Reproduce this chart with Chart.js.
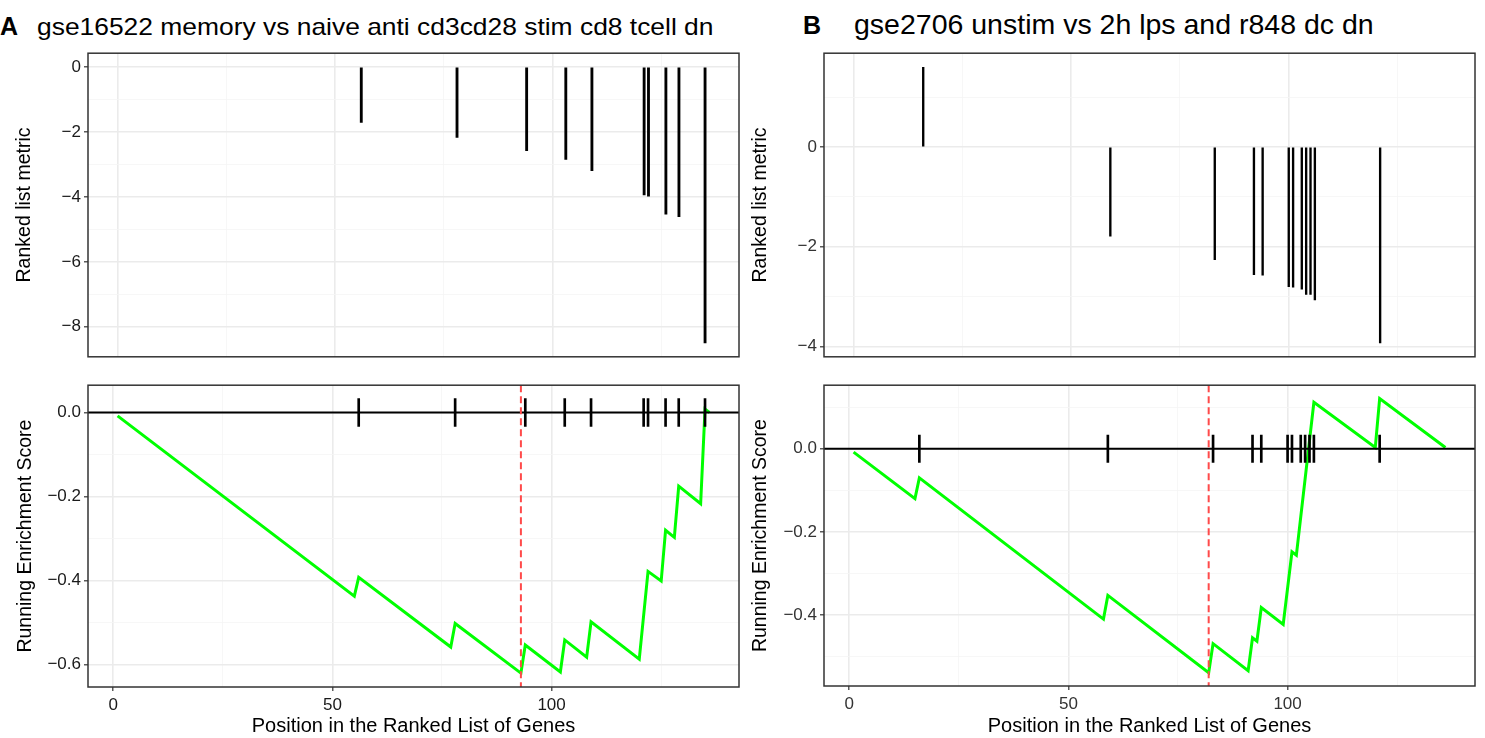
<!DOCTYPE html>
<html>
<head>
<meta charset="utf-8">
<script src="https://cdn.jsdelivr.net/npm/chart.js@4.4.1/dist/chart.umd.min.js"></script>
<style>
  body { margin: 0; background: #fff; width: 1485px; height: 738px; overflow: hidden; position: relative;
         font-family: "Liberation Sans", Arial, sans-serif; }
  canvas, .lbl { position: absolute; }
  .lbl { white-space: nowrap; line-height: 1; color: #000; }
</style>
</head>
<body>
<div class="lbl" style="left:0px;top:14px;font-size:25px;font-weight:bold">A</div>
<div class="lbl" style="left:37px;top:15px;font-size:24px;transform:scaleX(1.1);transform-origin:0 0">gse16522 memory vs naive anti cd3cd28 stim cd8 tcell dn</div>
<div class="lbl" style="left:803px;top:13px;font-size:25px;font-weight:bold">B</div>
<div class="lbl" style="left:854px;top:10px;font-size:28.5px">gse2706 unstim vs 2h lps and r848 dc dn</div>

<canvas id="aTop" width="745" height="330" style="left:0;top:40px"></canvas>
<canvas id="aBottom" width="745" height="366" style="left:0;top:372px"></canvas>
<canvas id="bTop" width="745" height="330" style="left:740px;top:40px"></canvas>
<canvas id="bBottom" width="745" height="366" style="left:740px;top:372px"></canvas>

<script>
// panel A: gse16522 memory vs naive
const genePosA = [56, 78, 94, 103, 109, 121, 122, 126, 129, 135]
const metricA = [-1.71, -2.17, -2.58, -2.85, -3.19, -3.94, -3.98, -4.53, -4.61, -8.5]
const esPosA = [1, 55, 56, 77, 78, 93, 94, 102, 103, 108, 109, 120, 122, 125, 126, 128, 129, 134, 135, 136]
const esA = [-0.008, -0.437, -0.392, -0.558, -0.502, -0.620, -0.553, -0.617, -0.541, -0.582, -0.498,
             -0.587, -0.378, -0.401, -0.280, -0.297, -0.175, -0.217, 0.008, 0.000]
const peakA = 93

// panel B: gse2706 unstim vs 2h lps and r848
const genePosB = [16, 59, 83, 92, 94, 100, 101, 103, 104, 105, 106, 121]
const metricB = [1.60, -1.79, -2.26, -2.56, -2.57, -2.80, -2.81, -2.85, -2.96, -2.96, -3.07, -3.93]
const esPosB = [1, 15, 16, 58, 59, 82, 83, 91, 92, 93, 94, 99, 101, 102, 106, 120, 121, 136]
const esB = [-0.008, -0.120, -0.070, -0.410, -0.353, -0.539, -0.469, -0.534, -0.455, -0.463, -0.382,
             -0.423, -0.248, -0.256, 0.112, 0.003, 0.121, 0.003]
const peakB = 82

// tick values
const xMajor = [0, 50, 100]
const xMinor = [25, 75, 125]
const yTopAMajor = [0, -2, -4, -6, -8]
const yTopAMinor = [-1, -3, -5, -7]
const yBotAMajor = [0, -0.2, -0.4, -0.6]
const yBotAMinor = [-0.1, -0.3, -0.5]
const yTopBMajor = [0, -2, -4]
const yTopBMinor = [1, -1, -3]
const yBotBMajor = [0, -0.2, -0.4]
const yBotBMinor = [0.1, -0.1, -0.3, -0.5]

const tickHalf = 0.033
const FONT = '"Liberation Sans", Arial, sans-serif'
Chart.defaults.font.family = FONT
Chart.defaults.animation = false

const fmtInt = v => v < 0 ? '\u2212' + Math.abs(v) : String(v)
const fmtDec = v => (v < 0 ? '\u2212' : '') + Math.abs(v).toFixed(1)

const frame = {
    id: 'frame',
    afterDraw(chart) {
        const { ctx, chartArea: a } = chart
        ctx.save()
        ctx.strokeStyle = '#333'
        ctx.lineWidth = 1.5
        ctx.strokeRect(a.left, a.top, a.right - a.left, a.bottom - a.top)
        ctx.restore()
    }
}

const refLines = {
    id: 'refLines',
    afterDatasetsDraw(chart, args, opts) {
        const { ctx, chartArea: a, scales: { x, y } } = chart
        const y0 = y.getPixelForValue(0)
        const xp = x.getPixelForValue(opts.peak)
        ctx.save()
        ctx.strokeStyle = '#000'
        ctx.lineWidth = 2
        ctx.beginPath(); ctx.moveTo(a.left, y0); ctx.lineTo(a.right, y0); ctx.stroke()
        ctx.strokeStyle = '#FF4A4A'
        ctx.lineWidth = 2
        ctx.setLineDash([7, 4])
        ctx.beginPath(); ctx.moveTo(xp, a.top); ctx.lineTo(xp, a.bottom); ctx.stroke()
        ctx.restore()
    }
}

const isMajor = (major, c) => !!c.tick && major.includes(c.tick.value)

const gridFor = (major, drawTicks) => ({
    drawTicks,
    offset: false,
    tickLength: 4,
    tickWidth: 1.2,
    color: c => isMajor(major, c) ? '#EBEBEB' : '#F5F5F5',
    lineWidth: c => isMajor(major, c) ? 1.6 : 0.8,
    tickColor: c => isMajor(major, c) ? '#333' : 'rgba(0,0,0,0)'
})

const setTicks = (major, minor) => scale => {
    scale.ticks = major.concat(minor).sort((a, b) => a - b).map(v => ({ value: v }))
}

const yAxis = (major, minor, min, max, fmt, width, title, titlePad, tickCol) => ({
    type: 'linear', min, max,
    afterBuildTicks: setTicks(major, minor),
    afterFit: s => { s.width = width },
    grid: gridFor(major, true),
    border: { display: false },
    ticks: { autoSkip: false, color: tickCol, font: { size: 17 }, padding: 3,
             callback: v => major.includes(v) ? fmt(v) : '' },
    title: { display: true, text: title, color: '#000', font: { size: 19.5 },
             padding: { top: titlePad, bottom: 0 } }
})

const xAxis = (min, max, showLabels, height, tickCol) => ({
    type: 'linear', min, max, offset: false,
    afterBuildTicks: setTicks(xMajor, xMinor),
    afterFit: s => { s.height = height },
    grid: gridFor(xMajor, showLabels),
    border: { display: false },
    ticks: { display: showLabels, autoSkip: false, maxRotation: 0, color: tickCol, font: { size: 17 },
             padding: 4, callback: v => xMajor.includes(v) ? String(v) : '' },
    title: { display: showLabels, text: 'Position in the Ranked List of Genes', color: '#000',
             font: { size: 20 }, padding: { top: 0, bottom: 0 } }
})

const basePlugins = { legend: { display: false }, tooltip: { enabled: false } }

const topChart = (id, pos, metric, yOpts, barW, pad) => new Chart(document.getElementById(id), {
    type: 'bar',
    data: {
        datasets: [{
            data: pos.map((p, i) => ({ x: p, y: metric[i] })),
            backgroundColor: '#000',
            borderWidth: 0,
            barThickness: barW
        }]
    },
    options: {
        responsive: false,
        layout: { padding: pad },
        plugins: basePlugins,
        scales: { x: xAxis(-6.8, 142.8, false, 0, '#222'), y: yOpts }
    },
    plugins: [frame]
})

const bottomChart = (id, esPos, es, hits, peak, yOpts, pad, tickCol) => new Chart(document.getElementById(id), {
    type: 'line',
    data: {
        datasets: [{
            type: 'line',
            data: esPos.map((p, i) => ({ x: p, y: es[i] })),
            borderColor: '#00FF00',
            borderWidth: 3,
            pointRadius: 0,
            tension: 0,
            order: 2
        }, {
            type: 'bar',
            data: hits.map(p => ({ x: p, y: [-tickHalf, tickHalf] })),
            backgroundColor: '#000',
            borderWidth: 0,
            barThickness: 2,
            order: 1
        }]
    },
    options: {
        responsive: false,
        layout: { padding: pad },
        plugins: { ...basePlugins, refLines: { peak } },
        scales: { x: xAxis(-5.75, 142.75, true, pad.xh, tickCol), y: yOpts }
    },
    plugins: [refLines, frame]
})

topChart('aTop', genePosA, metricA,
    yAxis(yTopAMajor, yTopAMinor, -8.925, 0.425, fmtInt, 88, 'Ranked list metric', 13.3, '#1a1a1a'),
    2.2, { left: 0, right: 6, top: 12, bottom: 7 })

bottomChart('aBottom', esPosA, esA, genePosA, peakA,
    yAxis(yBotAMajor, yBotAMinor, -0.653, 0.065, fmtDec, 88, 'Running Enrichment Score', 14, '#1a1a1a'),
    { left: 0, right: 6, top: 12, bottom: 0, xh: 51 }, '#1a1a1a')

topChart('bTop', genePosB, metricB,
    yAxis(yTopBMajor, yTopBMinor, -4.21, 1.885, fmtInt, 84, 'Ranked list metric', 9.3, '#333'),
    1.7, { left: 0, right: 10, top: 12, bottom: 8 })

bottomChart('bBottom', esPosB, esB, genePosB, peakB,
    yAxis(yBotBMajor, yBotBMinor, -0.571, 0.153, fmtDec, 84, 'Running Enrichment Score', 9.3, '#333'),
    { left: 0, right: 10, top: 11.5, bottom: 0, xh: 52 }, '#333')
</script>
</body>
</html>
